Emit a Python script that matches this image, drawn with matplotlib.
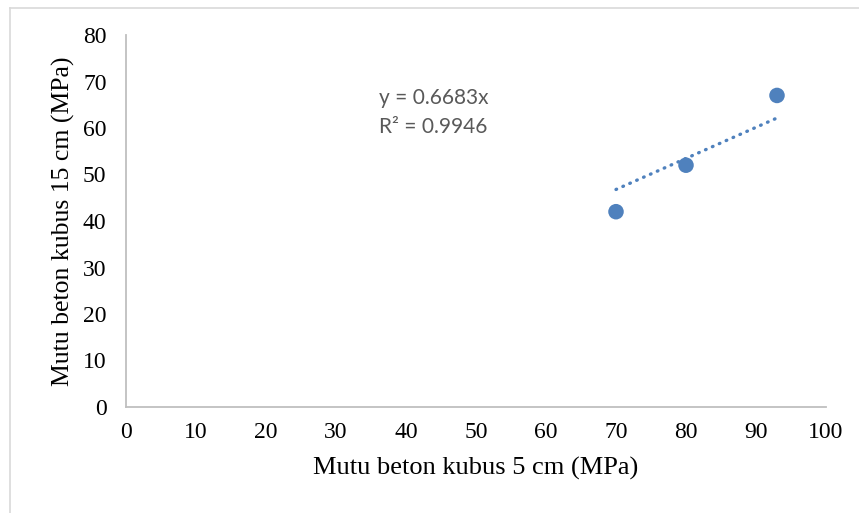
import matplotlib.pyplot as plt
from matplotlib.lines import Line2D

# data uji kubus
mutu_5cm = [70, 80, 93]
mutu_15cm = [42, 52, 67]
slope = 0.6683
r2 = 0.9946
x_ticks = list(range(0, 101, 10))
y_ticks = list(range(0, 81, 10))

biru = '#4F81BD'
abu = '#BFBFBF'

fig = plt.figure(figsize=(8.59, 5.13), dpi=100)
ax = fig.add_axes([126 / 859, 1 - 407 / 513, 700 / 859, 372 / 513])

# bingkai luar (kiri dan atas saja yang terlihat)
fig.add_artist(Line2D([9.5 / 859, 9.5 / 859], [0, 1 - 7.5 / 513], transform=fig.transFigure,
                      color='#D9D9D9', lw=1.2))
fig.add_artist(Line2D([9.5 / 859, 1], [1 - 7.5 / 513, 1 - 7.5 / 513], transform=fig.transFigure,
                      color='#D9D9D9', lw=1.2))

# garis tren y = ax (tanpa intercept)
x_tren = [min(mutu_5cm), max(mutu_5cm)]
y_tren = [slope * v for v in x_tren]
ax.plot(x_tren, y_tren, color=biru, lw=2.4, linestyle=(0, (0.2, 2.06)),
        dash_capstyle='round', zorder=2)

ax.scatter(mutu_5cm, mutu_15cm, s=125, color=biru, edgecolors='none', zorder=3)

ax.text(36.1, 63.4, f'y = {slope}x\nR² = {r2}', fontsize=15, family='Lato',
        color='#595959', va='center', ha='left', linespacing=1.55)

ax.set_xlim(0, 100)
ax.set_ylim(0, 80)
ax.set_xticks(x_ticks)
ax.set_yticks(y_ticks)
ax.tick_params(length=0, labelsize=17)
ax.tick_params(axis='x', pad=11)
ax.tick_params(axis='y', pad=14)
for lbl in ax.get_xticklabels() + ax.get_yticklabels():
    lbl.set_family('Liberation Serif')

for s in ['top', 'right']:
    ax.spines[s].set_visible(False)
for s in ['left', 'bottom']:
    ax.spines[s].set_color(abu)
    ax.spines[s].set_linewidth(1.3)

ax.set_xlabel('Mutu beton kubus 5 cm (MPa)', family='Liberation Serif', fontsize=19, labelpad=10)
ax.set_ylabel('Mutu beton kubus 15 cm (MPa)', family='Liberation Serif', fontsize=18.5, labelpad=6)

fig.savefig('out.png', dpi=100)
